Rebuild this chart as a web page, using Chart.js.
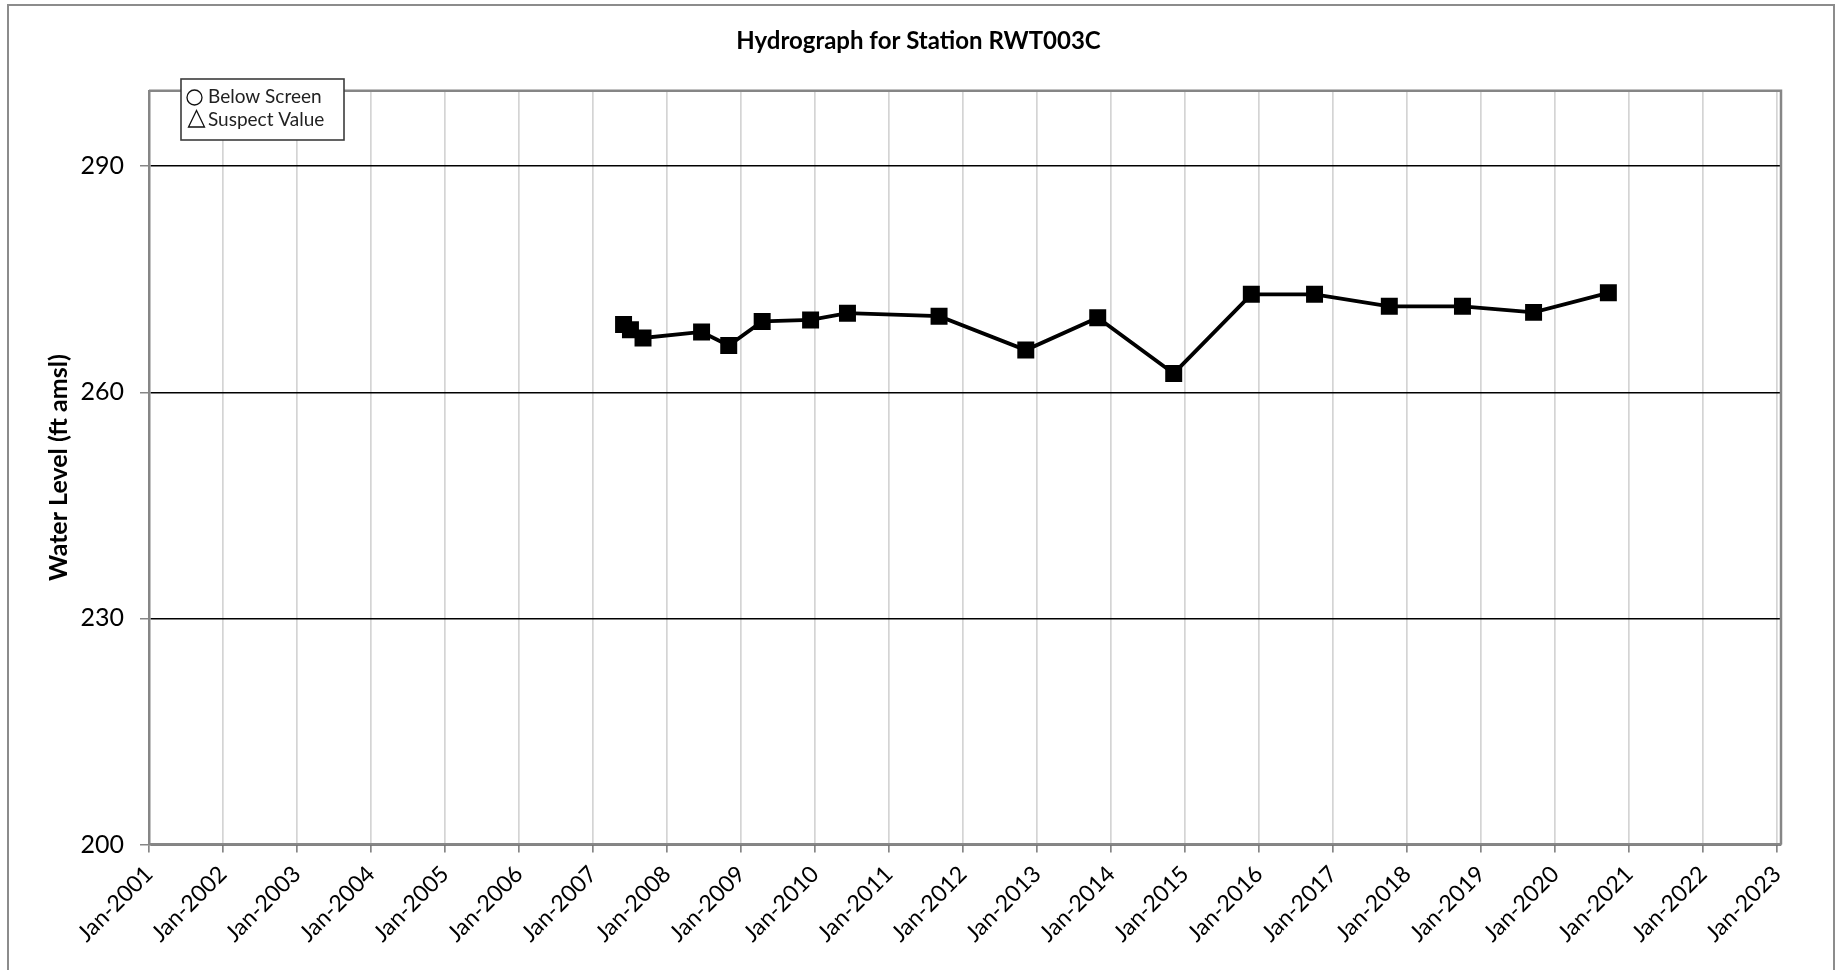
<!DOCTYPE html>
<html>
<head>
<meta charset="utf-8">
<title>Hydrograph for Station RWT003C</title>
<script src="https://cdn.jsdelivr.net/npm/chart.js@4.4.1/dist/chart.umd.min.js"></script>
<style>
  html, body { margin: 0; padding: 0; background: #fff; }
  #wrap { width: 1837px; height: 970px; position: relative; }
</style>
</head>
<body>
<div id="wrap"><canvas id="hydroChart" width="1837" height="970"></canvas></div>
<script>
// sampling dates and measured water level (ft amsl)
const sampleDates = [
  '2007-06-01', '2007-07-05', '2007-09-05', '2008-06-20', '2008-11-01',
  '2009-04-15', '2009-12-10', '2010-06-10', '2011-09-05', '2012-11-06',
  '2013-10-27', '2014-11-06', '2015-11-24', '2016-10-01', '2017-10-05',
  '2018-10-01', '2019-09-17', '2020-09-20'
];
const waterLevels = [
  269.0, 268.3, 267.2, 268.0, 266.2,
  269.4, 269.6, 270.5, 270.1, 265.6,
  269.9, 262.5, 273.0, 273.0, 271.4,
  271.4, 270.6, 273.2
];

// axis ticks
const tickYears = [2001, 2002, 2003, 2004, 2005, 2006, 2007, 2008, 2009, 2010, 2011, 2012,
  2013, 2014, 2015, 2016, 2017, 2018, 2019, 2020, 2021, 2022, 2023];
const tickLabels = ['Jan-2001', 'Jan-2002', 'Jan-2003', 'Jan-2004', 'Jan-2005', 'Jan-2006',
  'Jan-2007', 'Jan-2008', 'Jan-2009', 'Jan-2010', 'Jan-2011', 'Jan-2012', 'Jan-2013',
  'Jan-2014', 'Jan-2015', 'Jan-2016', 'Jan-2017', 'Jan-2018', 'Jan-2019', 'Jan-2020',
  'Jan-2021', 'Jan-2022', 'Jan-2023'];
const yTicks = [200, 230, 260, 290];
const legendLabels = ['Below Screen', 'Suspect Value'];

const FONT = 'Lato, "Open Sans", sans-serif';
const AXIS_GREY = '#868686';

const points = sampleDates.map((d, i) => ({ x: Date.parse(d), y: waterLevels[i] }));

// outer frame, plot frame and the symbol key box
const framePlugin = {
  id: 'frame',
  beforeDraw(chart) {
    const ctx = chart.ctx;
    ctx.save();
    ctx.fillStyle = '#fff';
    ctx.fillRect(0, 0, chart.width, chart.height);
    ctx.strokeStyle = '#8c8c8c';
    ctx.lineWidth = 2;
    ctx.strokeRect(8, 5, 1826, 1000);
    ctx.restore();
  },
  afterDraw(chart) {
    const ctx = chart.ctx;
    const a = chart.chartArea;
    ctx.save();
    ctx.strokeStyle = AXIS_GREY;
    ctx.lineWidth = 2.5;
    ctx.beginPath();
    ctx.moveTo(a.left, a.top);
    ctx.lineTo(a.right, a.top);
    ctx.lineTo(a.right, a.bottom);
    ctx.stroke();

    // key box
    ctx.fillStyle = '#fff';
    ctx.fillRect(181, 79, 163, 61);
    ctx.strokeStyle = '#3c3c3c';
    ctx.lineWidth = 1.6;
    ctx.strokeRect(181, 79, 163, 61);

    ctx.strokeStyle = '#111';
    ctx.lineWidth = 1.3;
    ctx.beginPath();
    ctx.arc(194.5, 97.5, 7.5, 0, Math.PI * 2);
    ctx.stroke();
    ctx.beginPath();
    ctx.moveTo(196.5, 110.5);
    ctx.lineTo(188.5, 127);
    ctx.lineTo(204.5, 127);
    ctx.closePath();
    ctx.stroke();

    ctx.fillStyle = '#222';
    ctx.font = '19px ' + FONT;
    ctx.textBaseline = 'middle';
    ctx.textAlign = 'left';
    ctx.fillText(legendLabels[0], 208, 97);
    ctx.fillText(legendLabels[1], 208, 119.5);
    ctx.restore();
  }
};

new Chart(document.getElementById('hydroChart'), {
  type: 'line',
  data: {
    datasets: [{
      data: points,
      borderColor: '#000',
      borderWidth: 3.8,
      tension: 0,
      pointStyle: 'rect',
      pointRadius: 12,
      pointHoverRadius: 12,
      pointBackgroundColor: '#000',
      pointBorderColor: '#000',
      pointBorderWidth: 0
    }]
  },
  options: {
    responsive: false,
    animation: false,
    layout: { padding: 0 },
    plugins: {
      legend: { display: false },
      tooltip: { enabled: false },
      title: {
        display: true,
        text: 'Hydrograph for Station RWT003C',
        color: '#000',
        font: { family: FONT, size: 24, weight: 'bold' },
        padding: { top: 27, bottom: 35 }
      }
    },
    scales: {
      x: {
        type: 'linear',
        min: Date.UTC(2001, 0, 1),
        max: Date.UTC(2023, 0, 20),
        afterBuildTicks: (scale) => {
          scale.ticks = tickYears.map(y => ({ value: Date.UTC(y, 0, 1) }));
        },
        afterFit: (scale) => { scale.height = 125.5; },
        grid: { color: '#d4d4d4', lineWidth: 1.7, tickColor: AXIS_GREY, tickLength: 8 },
        border: { color: AXIS_GREY, width: 2.5 },
        ticks: {
          autoSkip: false,
          minRotation: 45,
          maxRotation: 45,
          padding: 8,
          color: '#000',
          font: { family: FONT, size: 23 },
          callback: (value, index) => tickLabels[index]
        }
      },
      y: {
        min: 200,
        max: 300,
        afterBuildTicks: (scale) => {
          scale.ticks = yTicks.map(v => ({ value: v }));
        },
        afterFit: (scale) => { scale.width = 149; },
        grid: { color: '#000', lineWidth: 1.5, tickColor: AXIS_GREY, tickLength: 9 },
        border: { color: AXIS_GREY, width: 2.5 },
        ticks: {
          padding: 16,
          color: '#000',
          font: { family: FONT, size: 25 }
        },
        title: {
          display: true,
          text: 'Water Level (ft amsl)',
          color: '#000',
          font: { family: FONT, size: 25, weight: 'bold' },
          padding: { top: 44, bottom: 0 }
        }
      },
      // empty right-hand margin so the title stays centred on the canvas
      yRight: {
        position: 'right',
        min: 200,
        max: 300,
        grid: { display: false, drawTicks: false },
        border: { display: false },
        ticks: { display: false },
        afterFit: (scale) => { scale.width = 56; }
      }
    }
  },
  plugins: [framePlugin]
});
</script>
</body>
</html>
